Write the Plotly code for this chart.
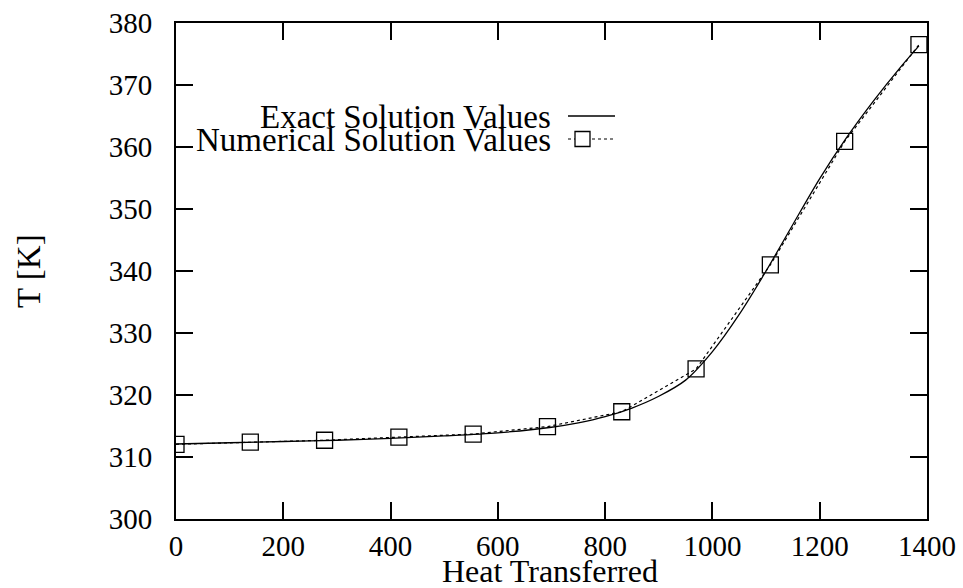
import plotly.graph_objects as go

# Exact solution curve
exact_q = [0, 100, 200, 300, 400, 500, 600, 700, 750, 800, 850, 900, 950,
           1000, 1050, 1100, 1150, 1200, 1250, 1300, 1350, 1385]
exact_T = [312.1, 312.3, 312.5, 312.7, 313.0, 313.4, 313.9, 314.8, 315.5, 316.5,
           317.9, 319.8, 322.4, 327.0, 333.0, 340.0, 347.5, 354.9, 361.5, 367.4,
           372.8, 376.3]

# Numerical solution points
num_q = [0, 138.5, 277, 415.5, 554, 692.5, 831, 969.5, 1108, 1246.5, 1385]
num_T = [312.05, 312.4, 312.7, 313.2, 313.7, 314.9, 317.3, 324.2, 341.0, 360.9, 376.5]

x_ticks = [0, 200, 400, 600, 800, 1000, 1200, 1400]
y_ticks = [300, 310, 320, 330, 340, 350, 360, 370, 380]

legend_labels = ["Exact Solution Values", "Numerical Solution Values"]
x_title = "Heat Transferred"
y_title = "T [K]"

FONT = "Liberation Serif"
TICK_SIZE = 29
TEXT_SIZE = 33

fig = go.Figure()
fig.add_trace(go.Scatter(x=exact_q, y=exact_T, mode="lines", line_shape="spline",
                         line=dict(color="black", width=1.3, smoothing=0.8),
                         name=legend_labels[0], showlegend=False))
fig.add_trace(go.Scatter(x=num_q, y=num_T, mode="lines+markers",
                         line=dict(color="black", width=1.2, dash="dot"),
                         marker=dict(symbol="square-open", size=16,
                                     color="black", line=dict(width=1.3, color="black")),
                         name=legend_labels[1], showlegend=False))

axis_common = dict(showline=True, linewidth=2, linecolor="black", mirror="ticks",
                   ticks="inside", ticklen=17, tickwidth=2, tickcolor="black",
                   showgrid=False, zeroline=False, automargin=False,
                   tickfont=dict(family=FONT, size=TICK_SIZE, color="black"))

fig.update_xaxes(range=[0, 1400], tickvals=x_ticks, ticklabelstandoff=0, **axis_common)
fig.update_yaxes(range=[300, 380], tickvals=y_ticks, ticklabelstandoff=16, **axis_common)

# Axis titles as annotations
fig.add_annotation(text=x_title, xref="paper", yref="paper", x=0.498, y=0,
                   yshift=-52, showarrow=False, xanchor="center", yanchor="middle",
                   font=dict(family=FONT, size=32, color="black"))
fig.add_annotation(text=y_title, xref="paper", yref="paper", x=0, y=0.5,
                   xshift=-147, textangle=-90, showarrow=False,
                   xanchor="center", yanchor="middle",
                   font=dict(family=FONT, size=TEXT_SIZE, color="black"))

# gnuplot-style legend (text left, sample right)
key_x_text = (553 - 176) / 751
key_rows = [(519 - 116) / 496, (519 - 139) / 496]
text_rows = [(519 - 117) / 496, (519 - 140) / 496]
for lbl, yy in zip(legend_labels, text_rows):
    fig.add_annotation(text=lbl, xref="paper", yref="paper", x=key_x_text, y=yy,
                       showarrow=False, xanchor="right", yanchor="middle",
                       font=dict(family=FONT, size=TEXT_SIZE, color="black"))
kx0 = (568 - 176) / 751
kx1 = (615 - 176) / 751
fig.add_shape(type="line", xref="paper", yref="paper", x0=kx0, x1=kx1,
              y0=key_rows[0], y1=key_rows[0], line=dict(color="black", width=1.3))
fig.add_shape(type="line", xref="paper", yref="paper", x0=kx0, x1=kx1,
              y0=key_rows[1], y1=key_rows[1], line=dict(color="black", width=1.2, dash="dot"))
sq_c = (582.5 - 176) / 751
half_w = 7.5 / 751
half_h = 7.5 / 496
fig.add_shape(type="rect", xref="paper", yref="paper",
              x0=sq_c - half_w, x1=sq_c + half_w,
              y0=key_rows[1] - half_h, y1=key_rows[1] + half_h,
              line=dict(color="black", width=1.3), fillcolor="white")

fig.update_layout(width=963, height=588, paper_bgcolor="white", plot_bgcolor="white",
                  margin=dict(l=176, r=36, t=23, b=69), showlegend=False,
                  font=dict(family=FONT, color="black"))

fig.write_html("out.html")
